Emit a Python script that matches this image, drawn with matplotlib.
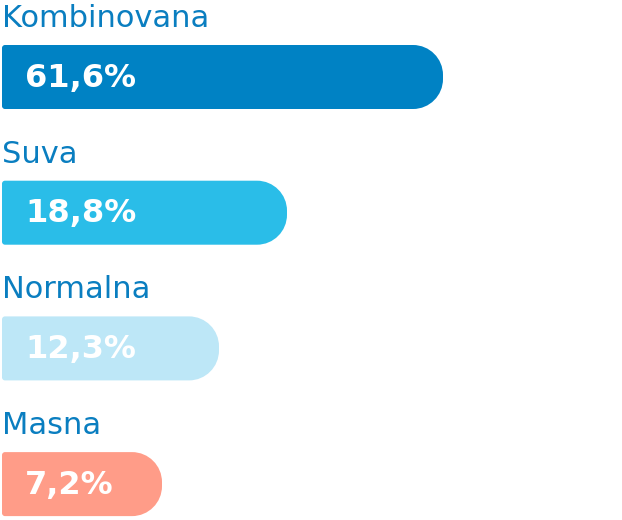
import matplotlib
matplotlib.use("Agg")
import matplotlib.pyplot as plt
from matplotlib.path import Path
from matplotlib.patches import PathPatch

categories = ["Kombinovana", "Suva", "Normalna", "Masna"]
values = [61.6, 18.8, 12.3, 7.2]
value_labels = ["61,6%", "18,8%", "12,3%", "7,2%"]
# visual bar lengths (pixels of a 622 px wide canvas)
bar_len = [441, 285, 217, 160]
colors = ["#0082C4", "#2ABDE8", "#BDE7F7", "#FF9C88"]

W, H = 622, 520
label_color = "#0A7EC0"


def rounded_bar(x0, y0, w, h, rl, rr):
    # y grows downward (axis inverted), y0 = top edge
    x1, y1 = x0 + w, y0 + h
    k = 0.5523
    verts = [
        (x0 + rl, y0), (x1 - rr, y0),
        (x1 - rr + k * rr, y0), (x1, y0 + rr - k * rr), (x1, y0 + rr),
        (x1, y1 - rr),
        (x1, y1 - rr + k * rr), (x1 - rr + k * rr, y1), (x1 - rr, y1),
        (x0 + rl, y1),
        (x0 + rl - k * rl, y1), (x0, y1 - rl + k * rl), (x0, y1 - rl),
        (x0, y0 + rl),
        (x0, y0 + rl - k * rl), (x0 + rl - k * rl, y0), (x0 + rl, y0),
        (x0 + rl, y0),
    ]
    codes = [Path.MOVETO, Path.LINETO,
             Path.CURVE4, Path.CURVE4, Path.CURVE4,
             Path.LINETO,
             Path.CURVE4, Path.CURVE4, Path.CURVE4,
             Path.LINETO,
             Path.CURVE4, Path.CURVE4, Path.CURVE4,
             Path.LINETO,
             Path.CURVE4, Path.CURVE4, Path.CURVE4,
             Path.CLOSEPOLY]
    return Path(verts, codes)


fig = plt.figure(figsize=(W / 100, H / 100), dpi=100)
ax = fig.add_axes([0, 0, 1, 1])
ax.set_xlim(0, W)
ax.set_ylim(H, 0)
ax.axis("off")

bar_h = 64
for i, (cat, lab, L, c) in enumerate(zip(categories, value_labels, bar_len, colors)):
    top = 45 + i * 135.7
    ax.add_patch(PathPatch(rounded_bar(2, top, L, bar_h, 3, 30), facecolor=c, edgecolor="none"))
    ax.text(2, top - 18, cat, color=label_color, fontsize=22, family="DejaVu Sans",
            ha="left", va="baseline")
    ax.text(25, top + bar_h / 2 + 1, lab, color="white", fontsize=23, fontweight="bold",
            family="DejaVu Sans", ha="left", va="center")

fig.savefig("out.png", dpi=100)
